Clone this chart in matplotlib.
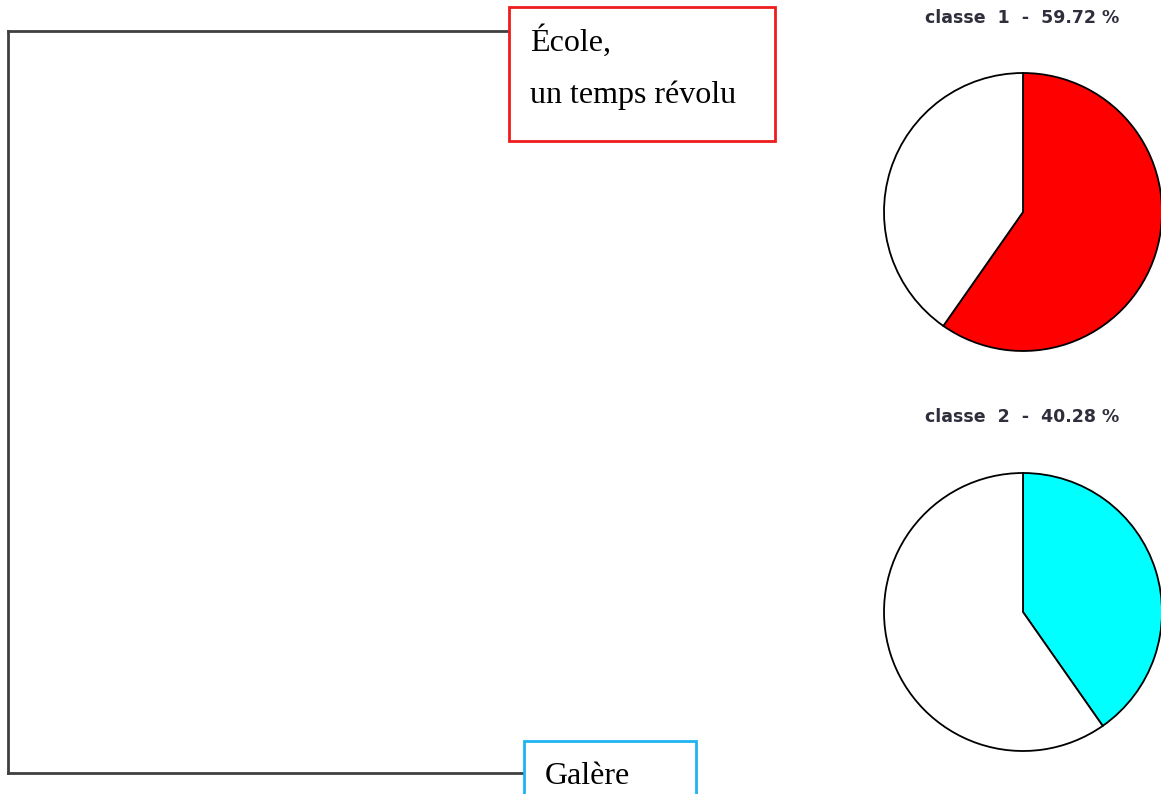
import matplotlib
matplotlib.use("Agg")
import matplotlib.pyplot as plt
from matplotlib.patches import Rectangle

# ---- data ----
class_names = ["classe 1", "classe 2"]
class_pcts = [59.72, 40.28]
class_colors = ["#ff0000", "#00ffff"]
class_labels = ["École,\nun temps révolu", "Galère"]
box_colors = ["#ee1c1c", "#1fb3ef"]

W, H = 1161, 794
fig = plt.figure(figsize=(W / 100, H / 100), dpi=100)
ax = fig.add_axes([0, 0, 1, 1])

def Y(py):
    return H - py

# ---- dendrogram ----
line_col = "#404040"
x_root = 8
leaf_y = [31, 773]
leaf_x_end = [509, 524]
ax.plot([x_root, x_root], [Y(leaf_y[0]), Y(leaf_y[1])], color=line_col, lw=2, solid_capstyle="projecting")
for ly, lx in zip(leaf_y, leaf_x_end):
    ax.plot([x_root, lx], [Y(ly), Y(ly)], color=line_col, lw=2, solid_capstyle="projecting")

# ---- label boxes ----
boxes = [(509, 7, 266, 134), (524, 741, 172, 80)]
text_pos = [(530, [51, 103]), (545, [784])]
for (bx, by, bw, bh), ec, lab, (tx, tys) in zip(boxes, box_colors, class_labels, text_pos):
    ax.add_patch(Rectangle((bx, Y(by + bh)), bw, bh, facecolor="white", edgecolor=ec, lw=2, zorder=3))
    for line, ty in zip(lab.split("\n"), tys):
        ax.text(tx, Y(ty), line, family="Liberation Serif", fontsize=23, color="black",
                ha="left", va="baseline", zorder=4)

# ---- pies ----
centers = [(1023, 212), (1023, 612)]
title_y = [18, 416.5]
for name, pct, col, (cx, cy), ty in zip(class_names, class_pcts, class_colors, centers, title_y):
    ax.pie([pct, 100 - pct], colors=[col, "white"], startangle=90, counterclock=False,
           center=(cx, Y(cy)), radius=139,
           wedgeprops=dict(edgecolor="black", linewidth=1.3))
    num = name.split()[1]
    ax.text(cx - 1, Y(ty), f"classe  {num}  -  {pct:.2f} %", family="DejaVu Sans", weight="bold",
            fontsize=12.5, color="#2e2e3c", ha="center", va="center")

ax.set_xlim(0, W)
ax.set_ylim(0, H)
ax.set_aspect("auto")
ax.axis("off")
fig.savefig("out.png", dpi=100, facecolor="white")
